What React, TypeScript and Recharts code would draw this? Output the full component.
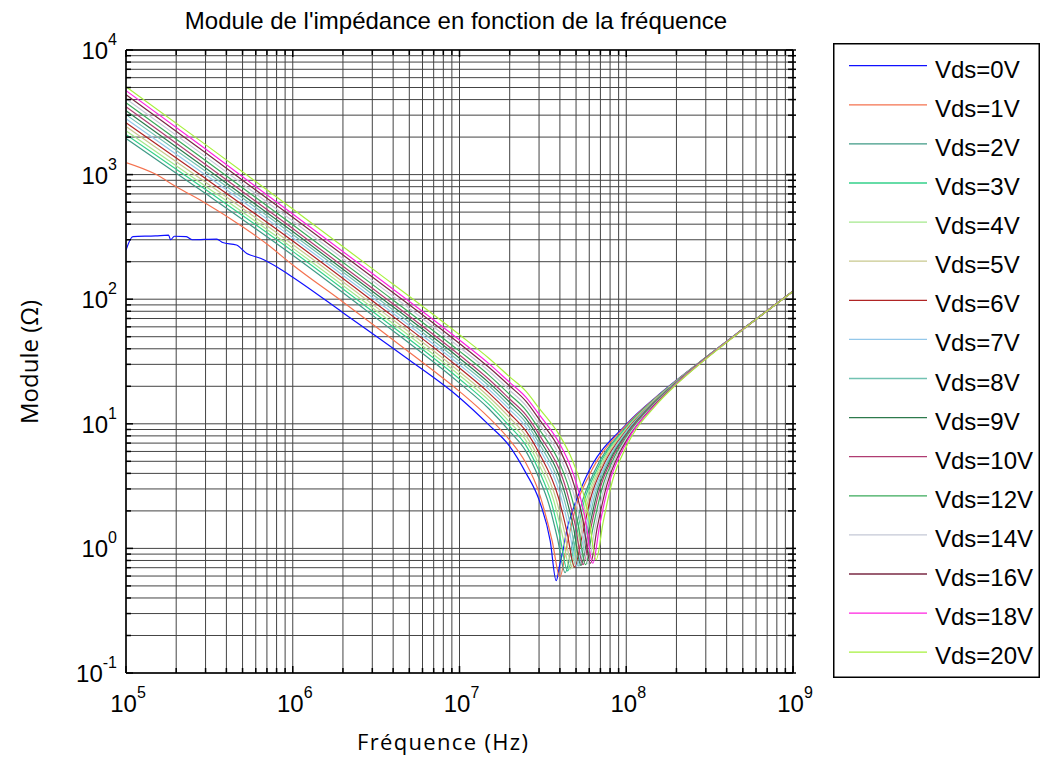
import React from "react";
import { LineChart, Line, XAxis, YAxis, CartesianGrid } from "recharts";

const FONT = "'Liberation Sans', Arial, sans-serif";
const LABEL_FONT = "'Open Sans', 'Noto Sans', sans-serif";

const vdsLabels = [
  "Vds=0V", "Vds=1V", "Vds=2V", "Vds=3V", "Vds=4V", "Vds=5V", "Vds=6V", "Vds=7V",
  "Vds=8V", "Vds=9V", "Vds=10V", "Vds=12V", "Vds=14V", "Vds=16V", "Vds=18V", "Vds=20V",
];

const vdsColors = [
  "#1010ff", "#f4724f", "#3f9a86", "#33d08a", "#a4e88c", "#c8c88e", "#b02424", "#94c8ea",
  "#72c2b2", "#2d7a4c", "#b03c72", "#3aaa5a", "#c4c8d6", "#7a2a44", "#ff22e0", "#a6f03c",
];

// [frequency (Hz), |Z| (ohm)]
const vds0: [number, number][] = [
  [1e5, 248], [1.1e5, 318], [1.5e5, 322], [1.8e5, 327], [1.85e5, 300], [1.95e5, 320],
  [2.3e5, 318], [2.5e5, 300], [3.5e5, 304], [3.8e5, 285], [4.6e5, 272], [5.3e5, 233],
  [6.4e5, 213], [8e5, 182], [1e6, 150], [2e6, 78], [5e6, 32.5], [1e7, 16.2], [1.5e7, 9.8],
  [2e7, 6.6], [2.5e7, 4.04], [3e7, 2.45], [3.5e7, 1.15], [3.8e7, 0.55], [4.0e7, 0.75],
  [4.2e7, 1.0], [4.4e7, 1.4], [4.75e7, 1.98], [5.7e7, 3.67], [1e8, 9.9], [1.5e8, 16.3],
  [2e8, 22.4], [3e8, 34.2], [5e8, 57.7], [1e9, 116],
];
const vds1: [number, number][] = [
  [1e5, 1250], [1.5e5, 1010], [2e5, 800], [3e5, 590], [5e5, 382], [7e5, 277], [1e6, 188],
  [2e6, 95], [5e6, 37.5], [1e7, 18.2], [1.5e7, 11.2], [2e7, 7.4], [2.5e7, 4.84], [3e7, 2.8],
  [3.2e7, 2.1], [3.6e7, 1.14], [4.0e7, 0.59], [4.4e7, 1.06], [5e7, 2.17], [6e7, 3.87],
  [1e8, 9.74], [1.5e8, 16.2], [2e8, 22.3], [3e8, 34.2], [5e8, 57.6], [1e9, 115.8],
];
const vds2: [number, number][] = [
  [1e5, 1950], [3e5, 705], [1e6, 225], [3e6, 74.5], [1e7, 21.2], [1.5e7, 13.2], [2e7, 8.7],
  [2.5e7, 6.04], [3e7, 3.65], [3.44e7, 2.25], [3.87e7, 1.2], [4.3e7, 0.64], [4.73e7, 1.05],
  [5.38e7, 2.25], [6.45e7, 4.16], [1e8, 9.46], [1.5e8, 16.0], [2e8, 22.1], [3e8, 34.1],
  [5e8, 57.6], [1e9, 115.8],
];
const vds3: [number, number][] = [
  [1e5, 2100], [3e5, 758], [1e6, 242], [3e6, 80], [1e7, 22.9], [1.5e7, 14.3], [2e7, 9.55],
  [2.5e7, 6.72], [3e7, 4.19], [3.56e7, 2.32], [4.0e7, 1.24], [4.45e7, 0.66], [4.9e7, 1.08],
  [5.56e7, 2.32], [6.68e7, 4.3], [1e8, 9.3], [1.5e8, 15.9], [2e8, 22.05], [3e8, 34.0],
  [5e8, 57.5], [1e9, 115.8],
];
const vds4: [number, number][] = [
  [1e5, 2250], [3e5, 808], [1e6, 257], [3e6, 85.4], [1e7, 24.5], [1.5e7, 15.4], [2e7, 10.3],
  [2.5e7, 7.36], [3e7, 4.69], [3.68e7, 2.4], [4.14e7, 1.28], [4.6e7, 0.68], [5.06e7, 1.12],
  [5.75e7, 2.4], [6.9e7, 4.45], [1e8, 9.15], [1.5e8, 15.8], [2e8, 22.0], [3e8, 34.0],
  [5e8, 57.5], [1e9, 115.8],
];
const vds5: [number, number][] = [
  [1e5, 2430], [3e5, 868], [1e6, 275], [3e6, 91.3], [1e7, 26.2], [1.5e7, 16.5], [2e7, 11.2],
  [2.5e7, 8.04], [3e7, 5.25], [3.8e7, 2.48], [4.28e7, 1.32], [4.75e7, 0.7], [5.23e7, 1.16],
  [5.94e7, 2.48], [7.13e7, 4.59], [1e8, 8.98], [1.5e8, 15.65], [2e8, 21.9], [3e8, 33.9],
  [5e8, 57.5], [1e9, 115.7],
];
const vds6: [number, number][] = [
  [1e5, 2610], [3e5, 930], [1e6, 293], [3e6, 97.2], [1e7, 28.0], [1.5e7, 17.7], [2e7, 12.1],
  [2.5e7, 8.76], [3e7, 5.82], [3.92e7, 2.56], [4.41e7, 1.36], [4.9e7, 0.71], [5.39e7, 1.19],
  [6.13e7, 2.56], [7.35e7, 4.73], [1e8, 8.81], [1.5e8, 15.5], [2e8, 21.8], [3e8, 33.9],
  [5e8, 57.4], [1e9, 115.7],
];
const vds7: [number, number][] = [
  [1e5, 2810], [3e5, 994], [1e6, 311], [3e6, 103], [1e7, 29.8], [1.5e7, 18.9], [2e7, 13.0],
  [2.5e7, 9.48], [3e7, 6.39], [4.04e7, 2.64], [4.55e7, 1.41], [5.05e7, 0.72], [5.56e7, 1.23],
  [6.31e7, 2.64], [7.58e7, 4.88], [1e8, 8.64], [1.5e8, 15.4], [2e8, 21.7], [3e8, 33.8],
  [5e8, 57.4], [1e9, 115.7],
];
const vds8: [number, number][] = [
  [1e5, 3030], [3e5, 1062], [1e6, 330], [3e6, 109.5], [1e7, 31.7], [1.5e7, 20.2], [2e7, 13.9],
  [2.5e7, 10.24], [3e7, 6.99], [4.16e7, 2.71], [4.68e7, 1.45], [5.2e7, 0.72], [5.72e7, 1.27],
  [6.5e7, 2.71], [7.8e7, 5.02], [1e8, 8.46], [1.5e8, 15.3], [2e8, 21.6], [3e8, 33.8],
  [5e8, 57.4], [1e9, 115.7],
];
const vds9: [number, number][] = [
  [1e5, 3260], [3e5, 1132], [1e6, 349], [3e6, 116], [1e7, 33.6], [1.5e7, 21.4], [2e7, 14.9],
  [2.5e7, 11.0], [3e7, 7.59], [4.28e7, 2.79], [4.82e7, 1.49], [5.35e7, 0.73], [5.89e7, 1.3],
  [6.69e7, 2.79], [8.03e7, 5.17], [1e8, 8.28], [1.5e8, 15.2], [2e8, 21.5], [3e8, 33.7],
  [5e8, 57.3], [1e9, 115.7],
];
const vds10: [number, number][] = [
  [1e5, 3510], [3e5, 1207], [1e6, 369], [3e6, 122.5], [1e7, 35.6], [1.5e7, 22.8], [2e7, 15.8],
  [2.5e7, 11.8], [3e7, 8.22], [4.4e7, 2.87], [4.95e7, 1.53], [5.5e7, 0.74], [6.05e7, 1.34],
  [6.88e7, 2.87], [8.25e7, 5.31], [1e8, 8.09], [1.5e8, 15.06], [2e8, 21.4], [3e8, 33.6],
  [5e8, 57.3], [1e9, 115.6],
];
const vds12: [number, number][] = [
  [1e5, 3780], [3e5, 1298], [1e6, 396], [3e6, 131.5], [1e7, 38.3], [1.5e7, 24.6], [2e7, 17.2],
  [2.5e7, 12.9], [3e7, 9.09], [4e7, 4.79], [4.56e7, 2.97], [5.13e7, 1.59], [5.7e7, 0.74],
  [6.27e7, 1.39], [7.13e7, 2.97], [8.55e7, 5.51], [1e8, 7.83], [1.5e8, 14.9], [2e8, 21.3],
  [3e8, 33.5], [5e8, 57.2], [1e9, 115.6],
];
const vds14: [number, number][] = [
  [1e5, 4070], [3e5, 1394], [1e6, 424], [3e6, 141], [1e7, 41.2], [1.5e7, 26.5], [2e7, 18.6],
  [2.5e7, 14.0], [3e7, 9.99], [4e7, 5.46], [4.72e7, 3.08], [5.31e7, 1.64], [5.9e7, 0.75],
  [6.49e7, 1.44], [7.38e7, 3.08], [8.85e7, 5.7], [1e8, 7.56], [1.5e8, 14.7], [2e8, 21.2],
  [3e8, 33.5], [5e8, 57.2], [1e9, 115.6],
];
const vds16: [number, number][] = [
  [1e5, 4380], [3e5, 1496], [1e6, 454], [3e6, 151], [1e7, 44.1], [1.5e7, 28.4], [2e7, 20.1],
  [2.5e7, 15.2], [3e7, 10.9], [4e7, 6.16], [4.88e7, 3.19], [5.49e7, 1.7], [6.1e7, 0.76],
  [6.71e7, 1.49], [7.63e7, 3.19], [9.15e7, 5.9], [1e8, 7.28], [1.5e8, 14.5], [2e8, 21.0],
  [3e8, 33.4], [5e8, 57.1], [1e9, 115.6],
];
const vds18: [number, number][] = [
  [1e5, 4720], [3e5, 1602], [1e6, 483], [3e6, 160.5], [1e7, 47.0], [1.5e7, 30.4], [2e7, 21.5],
  [2.5e7, 16.4], [3e7, 11.9], [4e7, 6.86], [4.6e7, 4.66], [5.04e7, 3.29], [5.67e7, 1.75],
  [6.3e7, 0.76], [6.93e7, 1.54], [7.88e7, 3.29], [1e8, 7.0], [1.5e8, 14.3], [2e8, 20.9],
  [3e8, 33.3], [5e8, 57.1], [1e9, 115.5],
];
const vds20: [number, number][] = [
  [1e5, 5080], [3e5, 1740], [1e6, 530], [3e6, 176], [1e7, 51.8], [1.5e7, 33.6], [2e7, 23.8],
  [2.5e7, 18.3], [3e7, 13.35], [4e7, 8.0], [4.6e7, 5.64], [5.28e7, 3.45], [5.94e7, 1.84],
  [6.6e7, 0.81], [7.26e7, 1.61], [8.25e7, 3.45], [1e8, 6.55], [1.5e8, 14.0], [2e8, 20.7],
  [3e8, 33.1], [5e8, 57.0], [1e9, 115.5],
];

const allSeries = [
  vds0, vds1, vds2, vds3, vds4, vds5, vds6, vds7,
  vds8, vds9, vds10, vds12, vds14, vds16, vds18, vds20,
];

// decade + minor tick positions for the log axes
const xTicks: number[] = [];
for (let d = 5; d < 9; d++) for (let m = 1; m < 10; m++) xTicks.push(m * Math.pow(10, d));
xTicks.push(1e9);
const yTicks: number[] = [];
for (let d = -1; d < 4; d++) for (let m = 1; m < 10; m++) yTicks.push(m * Math.pow(10, d));
yTicks.push(1e4);

const decade = (v: number) => {
  const lg = Math.log10(v);
  const e = Math.round(lg);
  return Math.abs(lg - e) < 1e-6 ? e : null;
};

const BottomTick = (props: any) => {
  const { x, y, payload } = props;
  const e = decade(payload.value);
  return (
    <g>
      <line x1={x} x2={x} y1={y} y2={y - (e !== null ? 7 : 5)} stroke="#000" strokeWidth={1.5} />
      {e !== null && (
        <text x={x + 2} y={y + 39} textAnchor="middle" fontSize={24} fontFamily={FONT} fill="#000">
          <tspan>10</tspan>
          <tspan dy={-14} fontSize={16}>{e}</tspan>
        </text>
      )}
    </g>
  );
};

const TopTick = (props: any) => {
  const { x, y, payload } = props;
  const e = decade(payload.value);
  return <line x1={x} x2={x} y1={y} y2={y + (e !== null ? 7 : 5)} stroke="#000" strokeWidth={1.5} />;
};

const LeftTick = (props: any) => {
  const { x, y, payload } = props;
  const e = decade(payload.value);
  return (
    <g>
      <line x1={x} x2={x + (e !== null ? 7 : 5)} y1={y} y2={y} stroke="#000" strokeWidth={1.5} />
      {e !== null && (
        <text x={x - 9} y={y + 9} textAnchor="end" fontSize={24} fontFamily={FONT} fill="#000">
          <tspan>10</tspan>
          <tspan dy={-14} fontSize={16}>{e}</tspan>
        </text>
      )}
    </g>
  );
};

const RightTick = (props: any) => {
  const { x, y, payload } = props;
  const e = decade(payload.value);
  return <line x1={x - (e !== null ? 7 : 5)} x2={x + 3} y1={y} y2={y} stroke="#000" strokeWidth={1.5} />;
};

const LegendBox = () => (
  <svg width={207} height={635} style={{ position: "absolute", left: 833, top: 43 }}>
    <rect x={0.75} y={0.75} width={205.5} height={633.5} fill="#fff" stroke="#000" strokeWidth={1.5} />
    {vdsLabels.map((label, i) => {
      const cy = 22.7 + i * 39.1;
      return (
        <g key={label}>
          <line x1={16} x2={94} y1={cy} y2={cy} stroke={vdsColors[i]} strokeWidth={1.3} />
          <text x={102} y={cy + 12} fontSize={24} fontFamily={FONT} fill="#000">
            {label}
          </text>
        </g>
      );
    })}
  </svg>
);

export default function App() {
  return (
    <div style={{ position: "absolute", left: 0, top: 0, width: 1047, height: 760, background: "#fff" }}>
      <LineChart width={1047} height={760} margin={{ top: 40, right: 244, bottom: 37, left: 66 }}>
        <CartesianGrid xAxisId="bottom" yAxisId="left" stroke="#444" strokeWidth={1} />
        <XAxis
          xAxisId="bottom"
          orientation="bottom"
          type="number"
          dataKey="f"
          scale="log"
          domain={[1e5, 1e9]}
          ticks={xTicks}
          interval={0}
          height={50}
          tickSize={0}
          tickMargin={0}
          tick={<BottomTick />}
          axisLine={{ stroke: "#000", strokeWidth: 1.5 }}
          allowDataOverflow
        />
        <XAxis
          xAxisId="top"
          orientation="top"
          type="number"
          dataKey="f"
          scale="log"
          domain={[1e5, 1e9]}
          ticks={xTicks}
          interval={0}
          height={10}
          tickSize={0}
          tickMargin={0}
          tick={<TopTick />}
          axisLine={{ stroke: "#000", strokeWidth: 1.5 }}
          allowDataOverflow
        />
        <YAxis
          yAxisId="left"
          orientation="left"
          type="number"
          scale="log"
          domain={[0.1, 1e4]}
          ticks={yTicks}
          interval={0}
          width={60}
          tickSize={0}
          tickMargin={0}
          tick={<LeftTick />}
          axisLine={{ stroke: "#000", strokeWidth: 1.5 }}
          allowDataOverflow
        />
        <YAxis
          yAxisId="right"
          orientation="right"
          type="number"
          scale="log"
          domain={[0.1, 1e4]}
          ticks={yTicks}
          interval={0}
          width={10}
          tickSize={0}
          tickMargin={0}
          tick={<RightTick />}
          axisLine={{ stroke: "#000", strokeWidth: 1.5 }}
          allowDataOverflow
        />
        {allSeries.map((pts, i) => (
          <Line
            key={vdsLabels[i]}
            name={vdsLabels[i]}
            xAxisId="bottom"
            yAxisId="left"
            data={pts.map(([f, z]) => ({ f, z }))}
            dataKey="z"
            type="monotone"
            stroke={vdsColors[i]}
            strokeWidth={1.2}
            dot={false}
            activeDot={false}
            isAnimationActive={false}
          />
        ))}
      </LineChart>
      <LegendBox />
      <svg
        width={1047}
        height={760}
        style={{ position: "absolute", left: 0, top: 0, pointerEvents: "none" }}
      >
        <text x={456} y={29} textAnchor="middle" fontSize={24} fontFamily={FONT} fill="#000">
          Module de l'impédance en fonction de la fréquence
        </text>
        <text x={357} y={750} fontSize={22} fontFamily={LABEL_FONT} fill="#000" textLength={171}>
          Fréquence (Hz)
        </text>
        <text
          x={0}
          y={0}
          transform="translate(38 362) rotate(-90)"
          textAnchor="middle"
          fontSize={24}
          fontFamily={LABEL_FONT}
          fill="#000"
        >
          Module (Ω)
        </text>
      </svg>
    </div>
  );
}
